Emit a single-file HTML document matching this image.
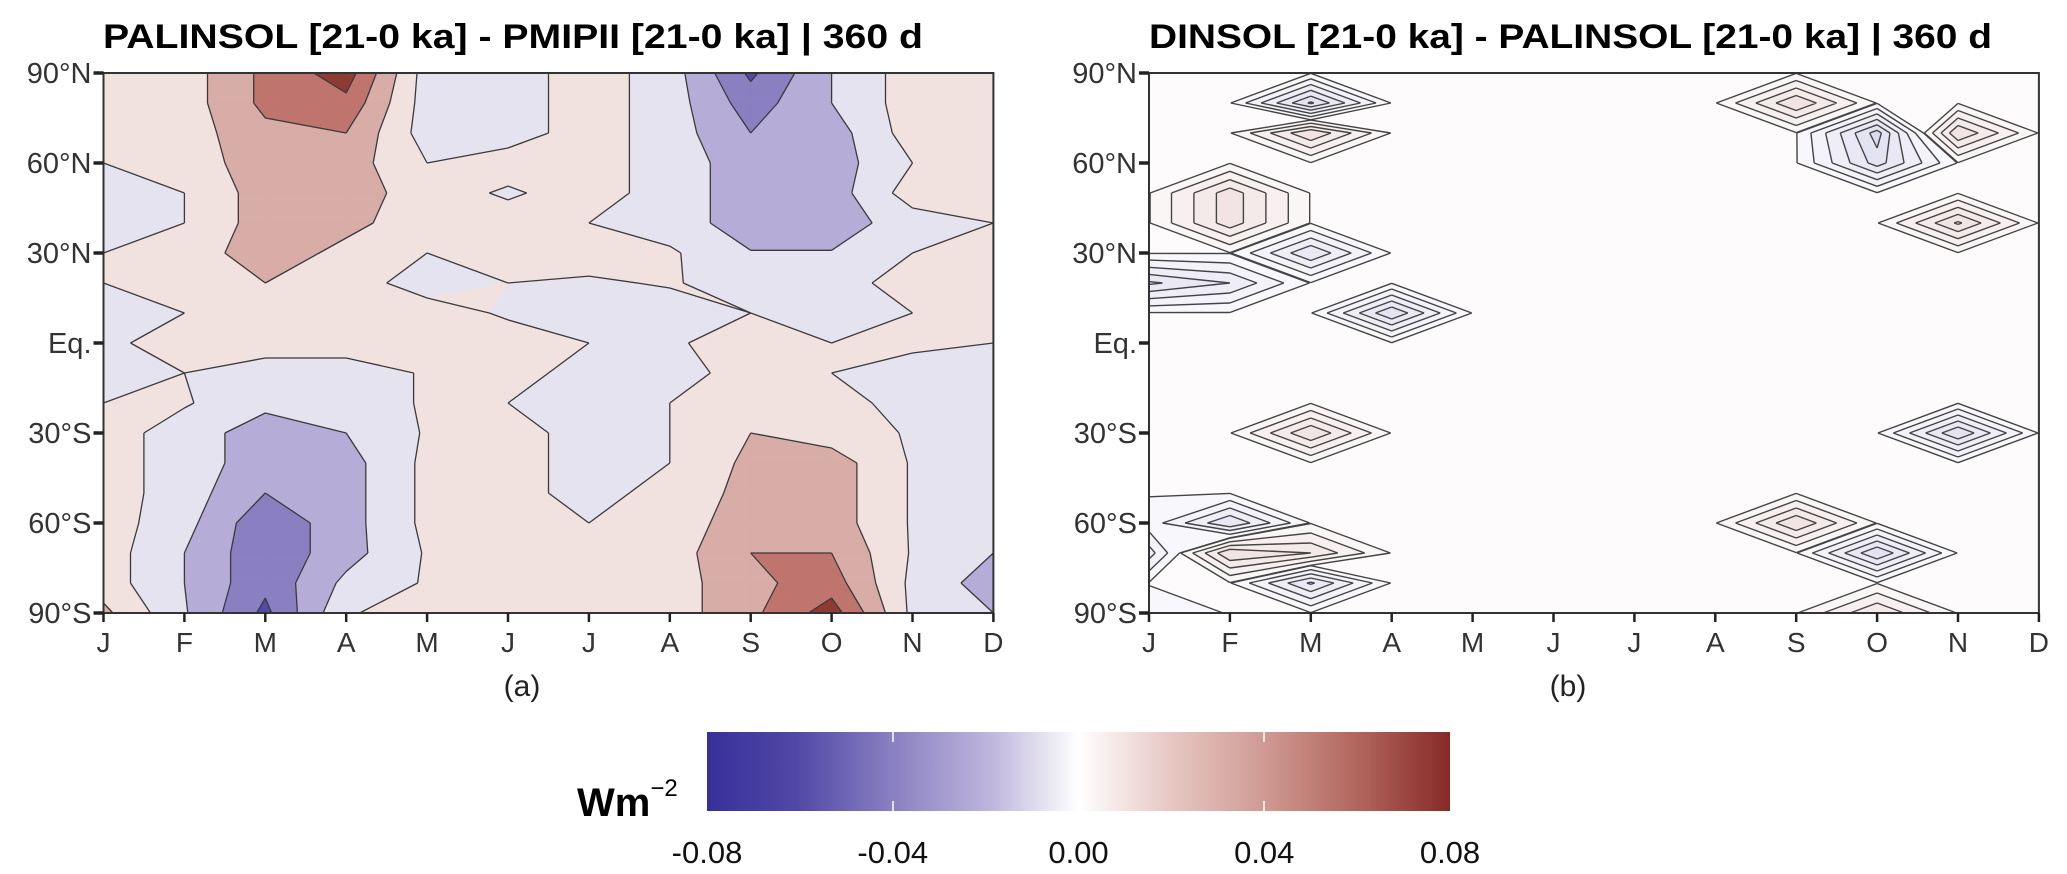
<!DOCTYPE html>
<html><head><meta charset="utf-8"><style>
html,body{margin:0;padding:0;background:#fff;}
svg{display:block;font-family:"Liberation Sans",Arial,sans-serif;}
</style></head><body>
<svg id="fig" width="2067" height="874" viewBox="0 0 2067 874" xmlns="http://www.w3.org/2000/svg">
<defs>
<linearGradient id="cbgrad" x1="0" x2="1" y1="0" y2="0">
<stop offset="0" stop-color="#36309a"/><stop offset="0.12" stop-color="#5148a6"/><stop offset="0.25" stop-color="#8a80c2"/><stop offset="0.38" stop-color="#bdb5dc"/><stop offset="0.5" stop-color="#ffffff"/><stop offset="0.62" stop-color="#e7c9c5"/><stop offset="0.75" stop-color="#cf9a93"/><stop offset="0.88" stop-color="#b0645b"/><stop offset="1" stop-color="#862a26"/>
</linearGradient>
</defs>
<text x="103" y="48" font-size="34" font-weight="bold" textLength="820" lengthAdjust="spacingAndGlyphs">PALINSOL [21-0 ka] - PMIPII [21-0 ka] | 360 d</text>
<text x="1149" y="48" font-size="34" font-weight="bold" textLength="843" lengthAdjust="spacingAndGlyphs">DINSOL [21-0 ka] - PALINSOL [21-0 ka] | 360 d</text>
<g id="panelA"></g>
<g id="panelB"></g>
<text x="522" y="696" font-size="30" text-anchor="middle" fill="#222">(a)</text>
<text x="1568" y="696" font-size="30" text-anchor="middle" fill="#222">(b)</text>
<g>
<rect x="707" y="732" width="743" height="79" fill="url(#cbgrad)"/>
<line x1="893" y1="732" x2="893" y2="742" stroke="#fff" stroke-width="1.5"/><line x1="893" y1="801" x2="893" y2="811" stroke="#fff" stroke-width="1.5"/>
<line x1="1264" y1="732" x2="1264" y2="742" stroke="#fff" stroke-width="1.5"/><line x1="1264" y1="801" x2="1264" y2="811" stroke="#fff" stroke-width="1.5"/>
<text x="577" y="816" font-size="40" font-weight="bold">Wm<tspan font-size="24" font-weight="normal" dy="-20">−2</tspan></text>
<g id="cbticks" font-size="31" fill="#111" text-anchor="middle"></g>
</g>
</svg>
<script>
const months = ['J','F','M','A','M','J','J','A','S','O','N','D'];
const latLabels = ['90°N','60°N','30°N','Eq.','30°S','60°S','90°S'];
const cbTicks = ['-0.08','-0.04','0.00','0.04','0.08'];
// Panel (a) values in 0.01 W m-2, rows 90N..90S every 10 deg, cols Jan..Dec
const gridA = [
[1,1,4.5,7,-1,-1,1,-1,-6.4,-2,1,1],
[1,1,4.5,5.5,-1,-1,1,-1,-5,-2,1,1],
[1,1,3.5,4,-1,-1,1,-1,-4,-3,1,0],
[0,1,3,3,0,1,1,-1,-3,-3,0,1],
[-1,0,3,3,1,-0.3,1,-1,-3,-3,1,1],
[-1,0,3,2.5,1,1,0,-1,-3,-3,-1,0],
[0,1,3,1.5,0,1,1,0.3,-1.9,-1.9,0,1],
[0,1,2,1,-1,0,-0.3,0.2,-1,-1,1,1],
[-1,0,1,1,1,-0.3,-1,-1,0,-1,0,1],
[-0.5,1,1,1,1,1,0,-0.3,1,0,0.5,0],
[-0.5,0,-1,-1,0.2,1,-1,-1,1,0,-1,-1],
[0,0.2,-1.5,-1,0.2,0,-1,0,1,1,-1,-1],
[1,-1,-3,-2,0.2,1,-1,0,2,1,-0.2,-1],
[1,-1,-3,-2.8,0.5,1,-1,0,2.5,3,-0.2,-1],
[1,-1,-4,-2.8,0.5,1,-1,1,2.5,3,-0.2,-1],
[1,-1.3,-5.5,-2.8,0.5,1,0,1,3,3,-0.2,-1],
[1,-2,-5.5,-2.8,0.2,1,1,1,4,4,-0.2,-2],
[1,-2,-5.5,-1.5,0.2,1,1,1,3.5,5,-0.5,-3],
[2.5,-1.8,-6.5,-0.2,1,1,1,1,3.5,7,-0.5,-2]
];
const levelsA = [-6,-4,-2,0,2,4,6];
const colorsA = ['#524aa8','#8a7fc0','#b5acd8','#e5e3f0','#f2e2df','#d8aca7','#bf756d','#8e3b33'];
// Panel (b): isolated anomalies [col, row, value] (arbitrary 1e-3 units)
const spikeCols = [2,2,1,1,0,1,2,3,8,9,9,10,10,10,2,1,0,1,2,2,0,0,8,9,9];
const spikeRows = [1,2,4,5,7,7,6,8,1,2,3,2,5,12,12,15,16,16,16,17,18,15,15,16,18];
const spikeVals = [-5.2,4,3.6,3.6,-4.2,-3,-4,-5,4,-5.5,-4.5,4,4.2,-5,4,-4,-2.5,4,3,-4.2,-0.6,-0.4,4,-5,3];
const levelsB = [-5,-4,-3,-2,-1,-0.05,0.05,1,2,3,4,5];
const colorsB = ['#dcdaee','#e4e3f1','#e9e8f4','#efeef7','#f4f3fa','#f8f7fb','#fdfbfb','#fbf6f6','#f8f0f0','#f5eaea','#f2e4e4','#eedcdc','#e9d3d3'];

const NS='http://www.w3.org/2000/svg';
function mk(tag, attrs, parent){const e=document.createElementNS(NS,tag);for(const k in attrs)e.setAttribute(k,attrs[k]);parent.appendChild(e);return e;}

function buildGridB(){
  const g=[];for(let r=0;r<19;r++){g.push(new Array(12).fill(0));}
  for(let i=0;i<spikeVals.length;i++){g[spikeRows[i]][spikeCols[i]]=spikeVals[i];}
  return g;
}

function drawPanel(parent, grid, levels, colors, x0, lineColor, lineW){
  const x1=x0+11*80.9, y0=73, y1=613;
  const X=c=>x0+c*(x1-x0)/11, Y=r=>y0+r*(y1-y0)/18;
  const nr=grid.length, nc=grid[0].length;
  const bg=mk('rect',{x:x0,y:y0,width:x1-x0,height:y1-y0,fill:colors[0]},parent);
  
  
  levels.forEach((L,li)=>{
    let d='';
    for(let r=0;r<nr-1;r++)for(let c=0;c<nc-1;c++){
      const cs=[[c,r],[c+1,r],[c+1,r+1],[c,r+1]];
      const vs=cs.map(p=>grid[p[1]][p[0]]);
      const pts=[];
      for(let i=0;i<4;i++){
        const j=(i+1)%4, a=vs[i], b=vs[j];
        if(a>=L)pts.push([X(cs[i][0]),Y(cs[i][1])]);
        if((a>=L)!==(b>=L)){const t=(L-a)/(b-a);pts.push([X(cs[i][0]+t*(cs[j][0]-cs[i][0])),Y(cs[i][1]+t*(cs[j][1]-cs[i][1]))]);}
      }
      if(pts.length>=3)d+='M'+pts.map(p=>p[0].toFixed(1)+','+p[1].toFixed(1)).join('L')+'Z';
    }
    if(d){const p=mk('path',{d:d,fill:colors[li+1],stroke:colors[li+1],'stroke-width':0.8,'stroke-linejoin':'round'},parent);
      
      }
  });
  levels.forEach(L=>{
    let d='';
    for(let r=0;r<nr-1;r++)for(let c=0;c<nc-1;c++){
      const cs=[[c,r],[c+1,r],[c+1,r+1],[c,r+1]];
      const vs=cs.map(p=>grid[p[1]][p[0]]);
      const cr=[];
      for(let i=0;i<4;i++){
        const j=(i+1)%4,a=vs[i],b=vs[j];
        if((a>=L)!==(b>=L)){const t=(L-a)/(b-a);cr.push([X(cs[i][0]+t*(cs[j][0]-cs[i][0])),Y(cs[i][1]+t*(cs[j][1]-cs[i][1]))]);}
      }
      for(let k=0;k+1<cr.length;k+=2)d+='M'+cr[k][0].toFixed(1)+','+cr[k][1].toFixed(1)+'L'+cr[k+1][0].toFixed(1)+','+cr[k+1][1].toFixed(1);
    }
    if(d){const p=mk('path',{d:d,fill:'none',stroke:lineColor,'stroke-width':lineW},parent);
      
      }
  });
  const fr=mk('rect',{x:x0,y:y0,width:x1-x0,height:y1-y0,fill:'none',stroke:'#333','stroke-width':2},parent);
  
  
  latLabels.forEach((lab,i)=>{
    const yy=y0+i*(y1-y0)/6;
    const t=mk('line',{x1:x0-10,y1:yy,x2:x0,y2:yy,stroke:'#222','stroke-width':3.5},parent);
    
    
    const tx=mk('text',{x:x0-12,y:yy+10,'font-size':29,'text-anchor':'end',fill:'#333'},parent);
    tx.textContent=lab;
    
    
  });
  months.forEach((m,i)=>{
    const xx=X(i);
    const t=mk('line',{x1:xx,y1:y1,x2:xx,y2:y1+9,stroke:'#222','stroke-width':2.5},parent);
    
    
    const tx=mk('text',{x:xx,y:y1+39,'font-size':28,'text-anchor':'middle',fill:'#333'},parent);
    tx.textContent=m;
    
    
  });
}
drawPanel(document.getElementById('panelA'), gridA, levelsA, colorsA, 103.5, '#3a3a3a', 1.3);
drawPanel(document.getElementById('panelB'), buildGridB(), levelsB, colorsB, 1149, '#444', 1.4);
const cbg=document.getElementById('cbticks');
cbTicks.forEach((lab,i)=>{
  const t=mk('text',{x:707+i*743/4,y:863},cbg);
  t.textContent=lab;
  
  
});
</script>
</body></html>
